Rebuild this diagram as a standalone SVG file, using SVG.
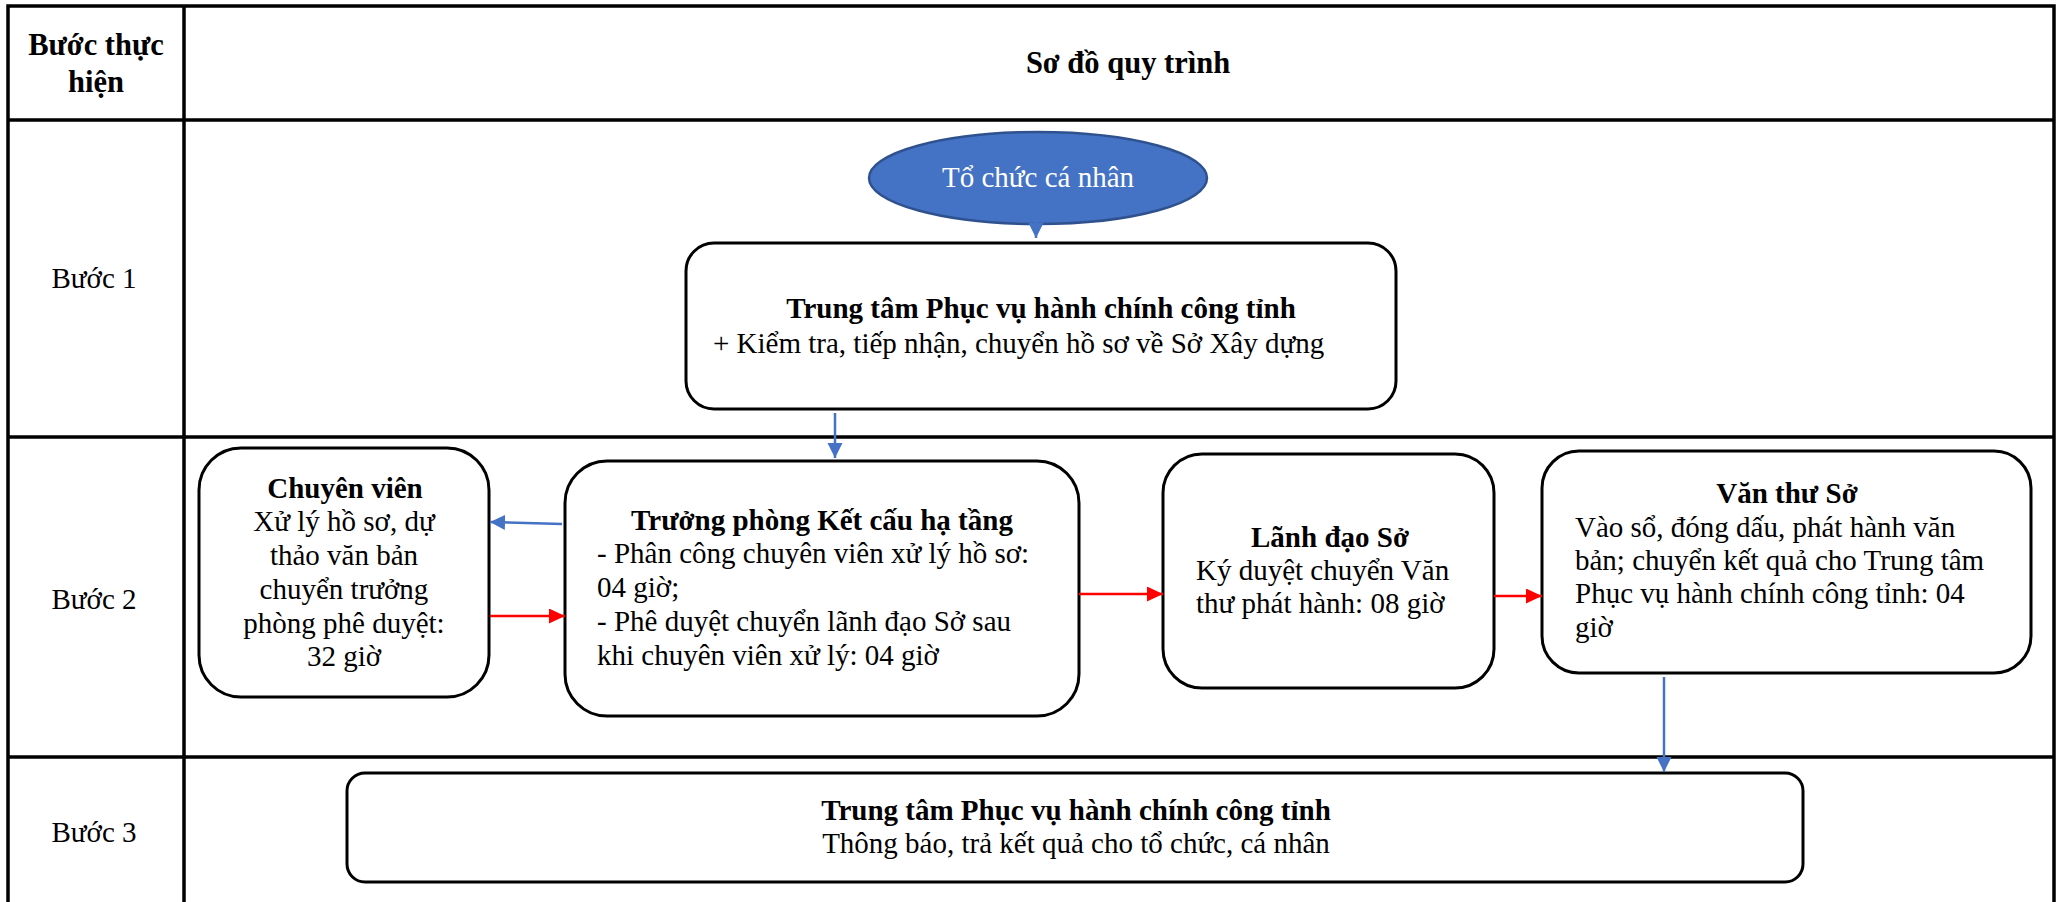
<svg xmlns="http://www.w3.org/2000/svg" width="2060" height="902" viewBox="0 0 2060 902">
<defs>
<style>
.t{font-family:"Liberation Serif","Times New Roman",serif;font-size:29px;fill:#000}
.b{font-weight:bold}
.c{text-anchor:middle}
.h{font-size:30.5px}
.grid{stroke:#000;stroke-width:3.5;fill:none}
.box{fill:#fff;stroke:#000;stroke-width:3}
.blue{stroke:#4472C4;stroke-width:2.5;fill:none}
.red{stroke:#FF0000;stroke-width:2.5;fill:none}
</style>
<marker id="ab" markerUnits="userSpaceOnUse" markerWidth="16" markerHeight="16" refX="15" refY="7.5" orient="auto"><path d="M0,0 L15,7.5 L0,15 z" fill="#4472C4"/></marker>
<marker id="ar" markerUnits="userSpaceOnUse" markerWidth="17" markerHeight="16" refX="16" refY="7.5" orient="auto"><path d="M0,0 L16,7.5 L0,15 z" fill="#FF0000"/></marker>
</defs>
<rect width="2060" height="902" fill="#fff"/>
<g id="table">
<path class="grid" d="M8,902 V6 H2054 V902 M184,6 V902 M8,120 H2054 M8,437 H2054 M8,757 H2054"/>
<text class="t b c h" x="96" y="55">Bước thực</text>
<text class="t b c h" x="96" y="92">hiện</text>
<text class="t b c h" x="1128" y="73">Sơ đồ quy trình</text>
<text class="t c" x="94" y="288">Bước 1</text>
<text class="t c" x="94" y="609">Bước 2</text>
<text class="t c" x="94" y="842">Bước 3</text>
</g>
<g id="n-tochuc">
<ellipse cx="1038" cy="178" rx="169" ry="46" fill="#4472C4" stroke="#2F528F" stroke-width="2.5"/>
<text class="t c" x="1038" y="187" style="fill:#fff">Tổ chức cá nhân</text>
</g>
<g id="n-trungtam1">
<rect class="box" x="686" y="243" width="710" height="166" rx="28"/>
<text class="t b c" x="1041" y="318">Trung tâm Phục vụ hành chính công tỉnh</text>
<text class="t" x="713" y="353">+ Kiểm tra, tiếp nhận, chuyển hồ sơ về Sở Xây dựng</text>
</g>
<g id="n-chuyenvien">
<rect class="box" x="199" y="448" width="290" height="249" rx="42"/>
<text class="t b c" x="345" y="498">Chuyên viên</text>
<text class="t c" x="344" y="531">Xử lý hồ sơ, dự</text>
<text class="t c" x="344" y="565">thảo văn bản</text>
<text class="t c" x="344" y="599">chuyển trưởng</text>
<text class="t c" x="344" y="633">phòng phê duyệt:</text>
<text class="t c" x="344" y="666">32 giờ</text>
</g>
<g id="n-truongphong">
<rect class="box" x="565" y="461" width="514" height="255" rx="42"/>
<text class="t b c" x="822" y="530">Trưởng phòng Kết cấu hạ tầng</text>
<text class="t" x="597" y="563">- Phân công chuyên viên xử lý hồ sơ:</text>
<text class="t" x="597" y="597">04 giờ;</text>
<text class="t" x="597" y="631">- Phê duyệt chuyển lãnh đạo Sở sau</text>
<text class="t" x="597" y="665">khi chuyên viên xử lý: 04 giờ</text>
</g>
<g id="n-lanhdao">
<rect class="box" x="1163" y="454" width="331" height="234" rx="39"/>
<text class="t b c" x="1330" y="547">Lãnh đạo Sở</text>
<text class="t" x="1196" y="580">Ký duyệt chuyển Văn</text>
<text class="t" x="1196" y="613">thư phát hành: 08 giờ</text>
</g>
<g id="n-vanthu">
<rect class="box" x="1542" y="451" width="489" height="222" rx="37"/>
<text class="t b c" x="1787" y="503">Văn thư Sở</text>
<text class="t" x="1575" y="537">Vào sổ, đóng dấu, phát hành văn</text>
<text class="t" x="1575" y="570">bản; chuyển kết quả cho Trung tâm</text>
<text class="t" x="1575" y="603">Phục vụ hành chính công tỉnh: 04</text>
<text class="t" x="1575" y="637">giờ</text>
</g>
<g id="n-trungtam3">
<rect class="box" x="347" y="773" width="1456" height="109" rx="18"/>
<text class="t b c" x="1076" y="820">Trung tâm Phục vụ hành chính công tỉnh</text>
<text class="t c" x="1076" y="853">Thông báo, trả kết quả cho tổ chức, cá nhân</text>
</g>
<g id="connectors">
<path class="blue" d="M1036,222 V238" marker-end="url(#ab)"/>
<path class="blue" d="M835,413 V458" marker-end="url(#ab)"/>
<path class="blue" d="M562,524 L490,522" marker-end="url(#ab)"/>
<path class="red" d="M490,616 H565" marker-end="url(#ar)"/>
<path class="red" d="M1079,594 H1163" marker-end="url(#ar)"/>
<path class="red" d="M1494,596 H1542" marker-end="url(#ar)"/>
<path class="blue" d="M1664,677 V772" marker-end="url(#ab)"/>
</g>
</svg>
